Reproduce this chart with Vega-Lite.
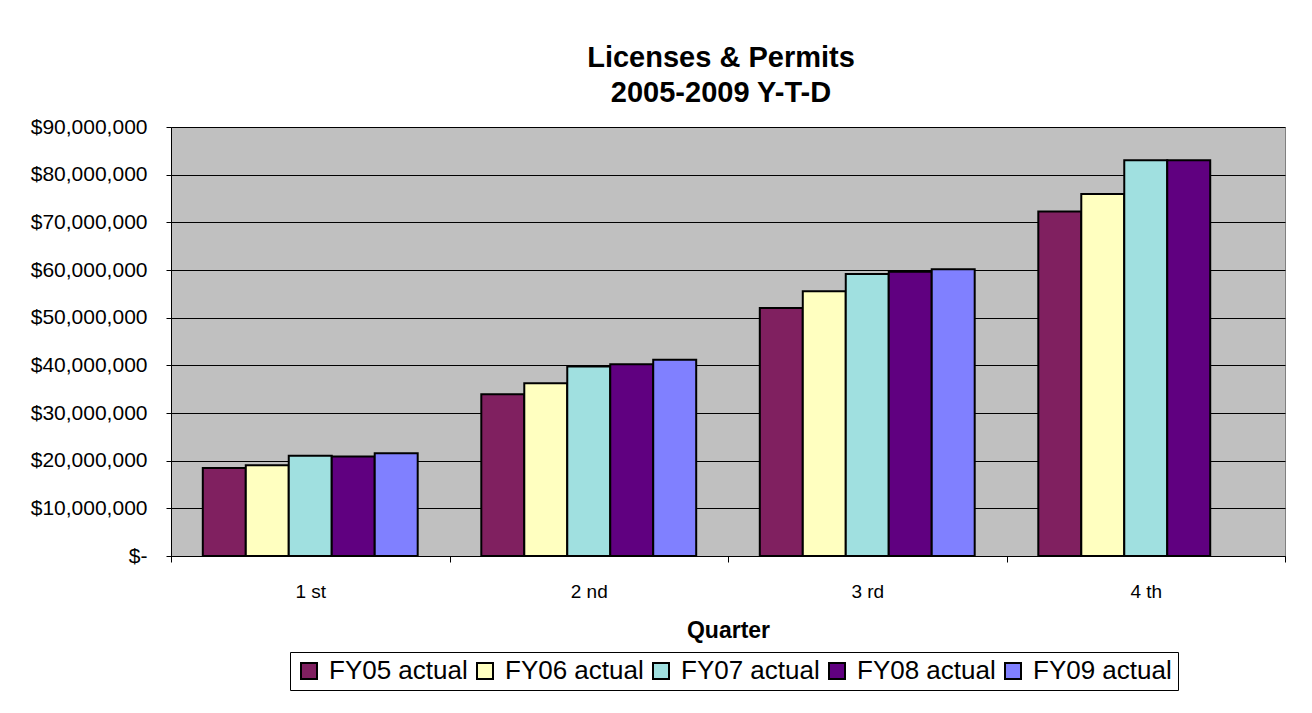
{
  "$schema": "https://vega.github.io/schema/vega-lite/v6.json",
  "width": 1114,
  "height": 429,
  "autosize": {"type": "none"},
  "padding": {"left": 171, "top": 127, "right": 27, "bottom": 157},
  "background": "white",
  "title": {
    "text": ["Licenses & Permits", "2005-2009 Y-T-D"],
    "font": "Liberation Sans",
    "fontSize": 29,
    "fontWeight": "bold",
    "color": "black",
    "lineHeight": 35,
    "anchor": "middle",
    "dx": -7,
    "offset": 8
  },
  "data": {
    "values": [
      {"quarter": "1 st", "series": "FY05 actual", "value": 18450000},
      {"quarter": "1 st", "series": "FY06 actual", "value": 19050000},
      {"quarter": "1 st", "series": "FY07 actual", "value": 21050000},
      {"quarter": "1 st", "series": "FY08 actual", "value": 20850000},
      {"quarter": "1 st", "series": "FY09 actual", "value": 21550000},
      {"quarter": "2 nd", "series": "FY05 actual", "value": 33950000},
      {"quarter": "2 nd", "series": "FY06 actual", "value": 36250000},
      {"quarter": "2 nd", "series": "FY07 actual", "value": 39750000},
      {"quarter": "2 nd", "series": "FY08 actual", "value": 40250000},
      {"quarter": "2 nd", "series": "FY09 actual", "value": 41150000},
      {"quarter": "3 rd", "series": "FY05 actual", "value": 52050000},
      {"quarter": "3 rd", "series": "FY06 actual", "value": 55550000},
      {"quarter": "3 rd", "series": "FY07 actual", "value": 59150000},
      {"quarter": "3 rd", "series": "FY08 actual", "value": 59650000},
      {"quarter": "3 rd", "series": "FY09 actual", "value": 60150000},
      {"quarter": "4 th", "series": "FY05 actual", "value": 72250000},
      {"quarter": "4 th", "series": "FY06 actual", "value": 75950000},
      {"quarter": "4 th", "series": "FY07 actual", "value": 83050000},
      {"quarter": "4 th", "series": "FY08 actual", "value": 83050000}
    ]
  },
  "mark": {"type": "bar", "stroke": "black", "strokeWidth": 2},
  "encoding": {
    "x": {
      "field": "quarter",
      "type": "nominal",
      "sort": ["1 st", "2 nd", "3 rd", "4 th"],
      "scale": {"paddingInner": 0, "paddingOuter": 0},
      "axis": {
        "title": "Quarter",
        "labelAngle": 0,
        "tickBand": "extent",
        "tickSize": 6,
        "tickColor": "black",
        "domainColor": "black",
        "labelPadding": 20,
        "labelFontSize": 19,
        "labelFont": "Liberation Sans",
        "labelColor": "black",
        "titleFont": "Liberation Sans",
        "titleFontSize": 23,
        "titleFontWeight": "bold",
        "titleColor": "black",
        "titlePadding": 18,
        "grid": false
      }
    },
    "xOffset": {
      "field": "series",
      "type": "nominal",
      "sort": ["FY05 actual", "FY06 actual", "FY07 actual", "FY08 actual", "FY09 actual"],
      "scale": {"domain": ["FY05 actual", "FY06 actual", "FY07 actual", "FY08 actual", "FY09 actual"], "paddingInner": 0, "paddingOuter": 0.74}
    },
    "y": {
      "field": "value",
      "type": "quantitative",
      "scale": {"domain": [0, 90000000], "nice": false},
      "axis": {
        "title": null,
        "values": [0, 10000000, 20000000, 30000000, 40000000, 50000000, 60000000, 70000000, 80000000, 90000000],
        "labelExpr": "datum.value === 0 ? '$-' : '$' + format(datum.value, ',')",
        "tickSize": 5,
        "tickColor": "black",
        "domainColor": "black",
        "labelPadding": 19,
        "labelFontSize": 21,
        "labelFont": "Liberation Sans",
        "labelColor": "black",
        "grid": true,
        "gridColor": "black",
        "gridWidth": 1,
        "gridOpacity": 1
      }
    },
    "color": {
      "field": "series",
      "type": "nominal",
      "scale": {
        "domain": ["FY05 actual", "FY06 actual", "FY07 actual", "FY08 actual", "FY09 actual"],
        "range": ["#802060", "#FFFFC0", "#A0E0E0", "#600080", "#8080FF"]
      },
      "legend": {
        "title": null,
        "orient": "none",
        "legendX": 119,
        "legendY": 525,
        "direction": "horizontal",
        "strokeColor": "black",
        "fillColor": "white",
        "padding": 6,
        "symbolType": "square",
        "symbolSize": 256,
        "symbolStrokeColor": "black",
        "symbolStrokeWidth": 2,
        "symbolOpacity": 1,
        "labelFontSize": 26,
        "labelFont": "Liberation Sans",
        "labelColor": "black",
        "labelOffset": 7,
        "columnPadding": 4
      }
    }
  },
  "config": {
    "view": {"fill": "#C0C0C0", "stroke": "#808080", "strokeWidth": 1}
  }
}
